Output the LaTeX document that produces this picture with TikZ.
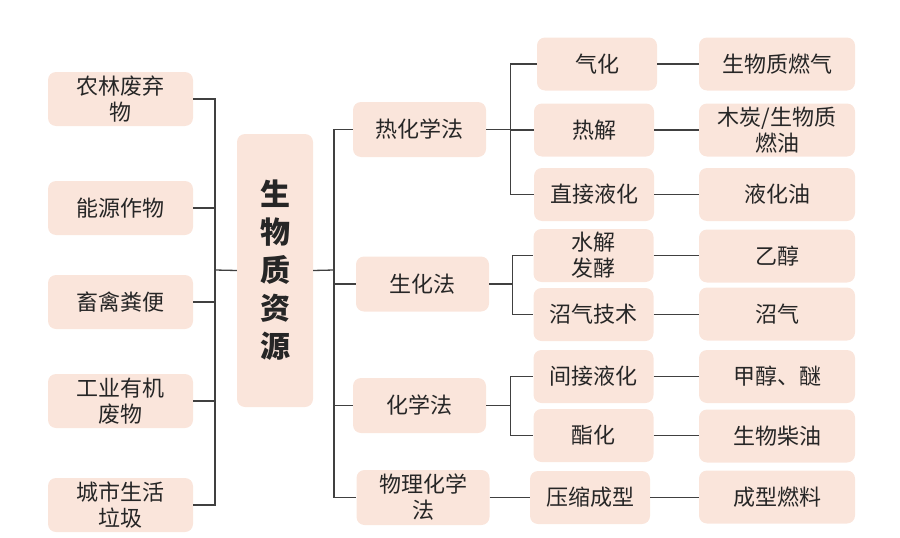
\documentclass[tikz,border=0pt]{standalone}
\usepackage{fontspec}
\newfontfamily\cjk{Noto Sans CJK SC}
\definecolor{boxpink}{RGB}{250,229,219}
\definecolor{linegray}{RGB}{64,64,64}
\tikzset{
  box/.style={fill=boxpink, rounded corners=8pt, inner sep=0pt, align=center,
    font=\cjk\fontsize{22}{26}\selectfont, text=black!85},
  srcbox/.style={box, minimum width=145pt, minimum height=54pt},
  methodbox/.style={box, minimum width=133pt, minimum height=55pt},
  techbox/.style={box, minimum width=120pt, minimum height=53pt},
  prodbox/.style={box, minimum width=156pt, minimum height=53pt},
  link/.style={draw=linegray, line width=1.3pt}
}
\begin{document}
\begin{tikzpicture}[x=1pt, y=-1pt]
				\useasboundingbox (0,0) rectangle (900,538);
				% biomass sources
				\node[srcbox] (nonglin) at (120.5,99) {农林废弃\\物};
				\node[srcbox] (nengyuan) at (120.5,208) {能源作物};
				\node[srcbox] (chuqin) at (120.5,302) {畜禽粪便};
				\node[srcbox] (gongye) at (120.5,401) {工业有机\\废物};
				\node[srcbox] (chengshi) at (120.5,505) {城市生活\\垃圾};
				% centre
				\node[box, minimum width=76pt, minimum height=273pt,
				      font=\cjk\fontsize{30}{38}\selectfont\bfseries] (core) at (275,270.5) {生\\物\\质\\资\\源};
				% conversion methods
				\node[methodbox] (rehua) at (419.5,129.5) {热化学法};
				\node[methodbox] (shenghua) at (422.5,284) {生化法};
				\node[methodbox] (huaxue) at (419.5,405.5) {化学法};
				\node[methodbox] (wuli) at (423,497.5) {物理化学\\法};
				% technologies
				\node[techbox] (qihua) at (597,64) {气化};
				\node[techbox] (rejie) at (594,130) {热解};
				\node[techbox] (zhijie) at (594,194.5) {直接液化};
				\node[techbox] (shuijie) at (593.5,255.5) {水解\\发酵};
				\node[techbox] (zhaoqi) at (593.5,314.5) {沼气技术};
				\node[techbox] (jianjie) at (593.5,376.5) {间接液化};
				\node[techbox] (zhihua) at (593.5,435.5) {酯化};
				\node[techbox] (yasuo) at (590,497.5) {压缩成型};
				% products
				\node[prodbox] (ranqi) at (777,64) {生物质燃气};
				\node[prodbox] (mutan) at (777,130) {木炭/生物质\\燃油};
				\node[prodbox] (yehuayou) at (777,194.5) {液化油};
				\node[prodbox] (yichun) at (777,256) {乙醇};
				\node[prodbox] (zhaoqigas) at (777,314) {沼气};
				\node[prodbox] (jiachun) at (777,376.5) {甲醇、醚};
				\node[prodbox] (chaiyou) at (777,436) {生物柴油};
				\node[prodbox] (ranliao) at (777,497) {成型燃料};
				% left tree
				\coordinate (lbus) at (215,270);
				\foreach \s in {nonglin,nengyuan,chuqin,gongye,chengshi}
				  \draw[link] (\s.east) -| (lbus);
				\draw[link] (lbus) -- (core.west);
				% right tree
				\coordinate (rbus) at (334,270);
				\draw[link] (core.east) -- (rbus);
				\foreach \m in {rehua,shenghua,huaxue,wuli}
				  \draw[link] (rbus) |- (\m.west);
				\foreach \t in {qihua,rejie,zhijie}
				  \draw[link] (rehua.east) -- ++(24,0) |- (\t.west);
				\foreach \t in {shuijie,zhaoqi}
				  \draw[link] (shenghua.east) -- ++(23,0) |- (\t.west);
				\foreach \t in {jianjie,zhihua}
				  \draw[link] (huaxue.east) -- ++(24,0) |- (\t.west);
				\draw[link] (wuli.east) -- (wuli.east -| yasuo.west);
				% technology to product
				\foreach \t/\p in {qihua/ranqi,rejie/mutan,zhijie/yehuayou,shuijie/yichun,
				  zhaoqi/zhaoqigas,jianjie/jiachun,zhihua/chaiyou,yasuo/ranliao}
				  \draw[link] (\t.east) -- (\t.east -| \p.west);
		\end{tikzpicture}
\end{document}
